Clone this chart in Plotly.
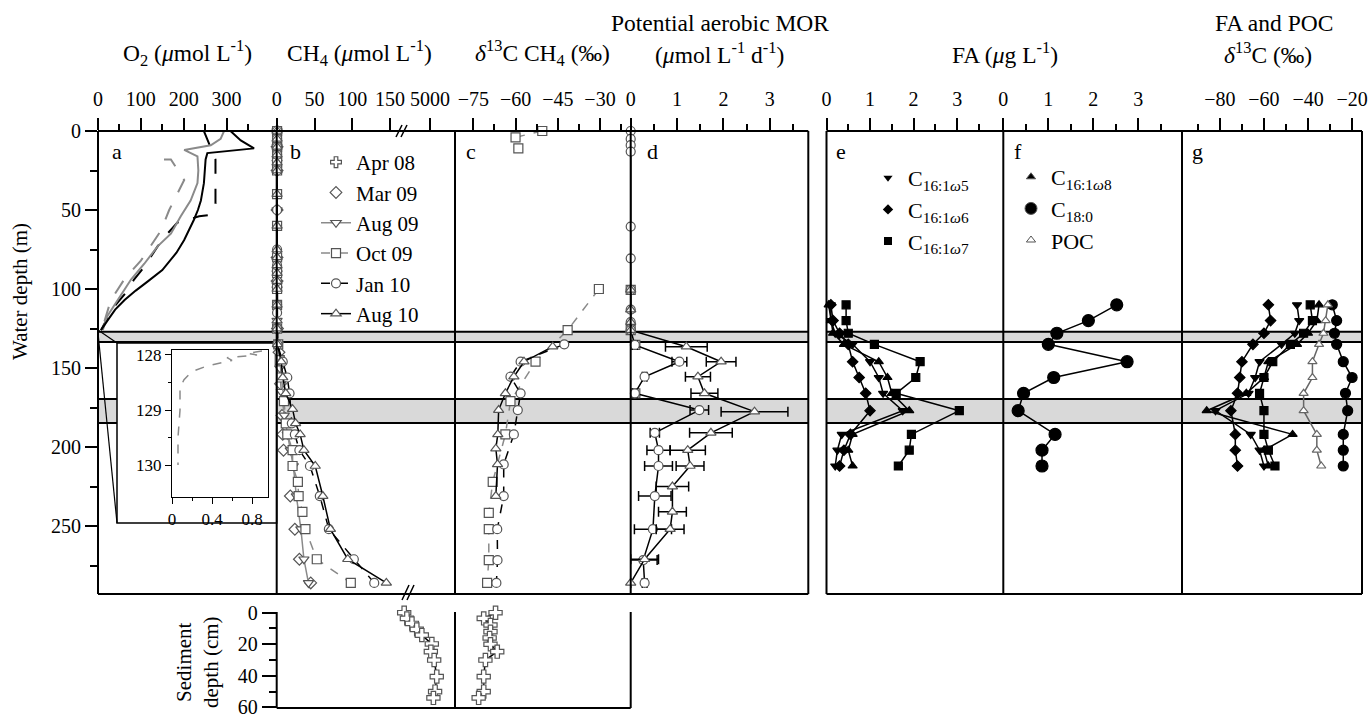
import plotly.graph_objects as go

W, H = 1372, 715
def PX(x): return x / W
def PY(y): return 1 - y / H

SERIF = "Liberation Serif"

# ---------------- data ----------------
# (a) O2 (umol/L) vs water depth (m)
a_aug10_z = [0, 6, 11, 14, 18, 25, 33, 44, 50, 56, 62, 69, 77, 88, 95, 101, 107, 113, 120, 126]
a_aug10 = [309, 333, 364, 255, 251, 249, 247, 240, 233, 224, 213, 201, 183, 150, 117, 88, 62, 40, 22, 7]
a_aug09_z = [0, 5, 9, 12, 16, 25, 33, 44, 54, 65, 73, 84, 94, 107, 117, 126]
a_aug09 = [294, 286, 263, 201, 232, 234, 232, 216, 193, 170, 139, 108, 77, 46, 22, 11]
a_oct09_z = [18, 18, 31, 44, 50, 63, 75, 82, 94, 107, 124]
a_oct09 = [154, 170, 201, 177, 166, 147, 116, 100, 61, 30, 11]
a_jan10_z = [0, 8, 18, 46, 53, 54, 58, 65, 73, 86, 94, 101, 111, 122, 126]
a_jan10 = [247, 259, 274, 274, 263, 236, 185, 162, 139, 108, 84, 69, 38, 15, 7]
# inset: O2 near oxycline
inset_z = [127.93, 127.97, 128.0, 128.05, 128.1, 128.2, 128.3, 128.45, 128.6, 129.0, 129.5, 130.0]
inset_o2 = [0.9, 0.75, 0.85, 0.55, 0.6, 0.35, 0.2, 0.12, 0.08, 0.08, 0.06, 0.06]

# (b) CH4 (umol/L)
b_mar09_z = [0, 10, 25, 50, 80, 95, 125, 140, 160, 180, 192, 202, 231, 252, 271, 286]
b_mar09 = [0.5, 0.5, 0.5, 0.5, 0.5, 0.5, 1, 3, 5, 7, 8, 9, 18, 24, 30, 45]
b_aug09_z = [0, 10, 20, 50, 90, 100, 120, 135, 150, 165, 180, 192, 202, 212, 231, 252, 271, 286]
b_aug09 = [0.5, 0.5, 0.5, 0.5, 0.5, 0.5, 0.5, 2, 4, 6, 10, 14, 18, 22, 26, 32, 36, 42]
b_oct09_z = [0, 5, 10, 15, 20, 25, 40, 60, 80, 90, 100, 110, 125, 135, 145, 156, 171, 185, 192, 202, 212, 222, 231, 241, 252, 271, 286]
b_oct09 = [0.5] * 13 + [2, 4, 6, 9.6, 12, 14, 21, 21, 28, 29, 34, 38, 53, 98]
b_jan10_z = [0, 5, 10, 15, 25, 50, 75, 85, 95, 110, 115, 125, 135, 146, 156, 166, 185, 192, 202, 212, 231, 252, 271, 286]
b_jan10 = [0.5] * 12 + [1, 8, 14, 17, 20, 24, 30, 44, 57, 69, 102, 129]
b_aug10_z = [0, 5, 10, 15, 20, 25, 40, 60, 75, 80, 85, 90, 95, 100, 110, 120, 125, 135, 146, 156, 166, 176, 185, 192, 202, 212, 231, 252, 271, 286]
b_aug10 = [0.5] * 17 + [1, 6, 8, 12, 21, 25, 31, 36, 51, 61, 71, 94, 145]
b_axis_vals = [0, 50, 100, 150, 202.8]
b_axis_text = ["0", "50", "100", "150", "5000"]

# (c) d13C-CH4 (permil); None = gap in the profile line
c_oct09_z = [0, 4, 11, None, 100, 126, 146, 171, 192, 222, 241.6, 252, 271.6, 286]
c_oct09 = [-50.5, -60, -59, None, -30.4, -41.5, -52.9, -61.8, -63.6, -68.1, -69.5, -69.5, -69.5, -70.1]
c_jan10_z = [135, 146, 155.5, 166, 176.6, 192, 211, 231, 252, 271.6, 286]
c_jan10 = [-42.7, -58.2, -61.8, -58.2, -59.2, -60.6, -64.2, -64.2, -66.5, -66.4, -66.8]
c_aug10_z = [136.5, 146, 155.5, 166, 176.6, 192, 201, 211, 231]
c_aug10 = [-46.8, -57, -60.6, -63.6, -66, -66.3, -67, -66.4, -67]

# (d) potential aerobic MOR (umol/L/d)
d_jan10_z = [0, 5, 9, 13, 60.5, 80.6, 100.6, 113, 121, 126, 135.4, 146, 155.5, 166, 176.6, 191, 202, 212, 231, 252, 271.5, 286]
d_jan10 = [0] * 10 + [0.09, 1.05, 0.3, 0.09, 1.48, 0.52, 0.6, 0.6, 0.52, 0.48, 0.27, 0.3]
d_jan10_err = [0] * 10 + [0.05, 0.16, 0.05, 0.05, 0.2, 0.1, 0.25, 0.3, 0.35, 0.4, 0.3, 0.05]
d_aug10_z = [100.6, 113, 121, 126, 136.5, 146, 155.5, 166, 177.6, 191, 202, 212, 225, 241, 252, 271, 286]
d_aug10 = [0, 0, 0, 0, 1.2, 1.95, 1.45, 1.59, 2.67, 1.73, 1.23, 1.28, 0.9, 0.9, 0.85, 0.3, 0]
d_aug10_err = [0, 0, 0, 0, 0.45, 0.32, 0.27, 0.29, 0.72, 0.46, 0.38, 0.3, 0.35, 0.3, 0.3, 0.3, 0]
d_oct09_z = [100.6, 126, 135.4, 166]
d_oct09 = [0, 0, 0.1, 0.1]

# (e,f) fatty acids (ug/L) and (g) d13C (permil)
fa_z = [110, 120, 128, 135, 146, 156, 166, 177, 192, 202, 212]
e_c5 = [0.1, 0.1, 0.2, 0.6, 1.0, 1.2, 1.3, 1.75, 0.35, 0.25, 0.2]
e_c6 = [0.1, 0.15, 0.3, 0.5, 0.6, 0.75, 0.9, 1.0, 0.55, 0.4, 0.3]
e_c7 = [0.45, 0.45, 0.5, 1.1, 2.15, 2.05, 1.6, 3.05, 1.95, 1.9, 1.65]
e_c8 = [0.05, 0.1, 0.15, 0.4, 1.2, 1.4, 1.5, 1.9, 0.6, 0.5, 0.6]
f_c18 = [2.52, 1.89, 1.19, 1.0, 2.75, 1.12, 0.45, 0.33, 1.15, 0.86, 0.86]
g_c5 = [-45, -44, -46, -52, -62, -64, -67, -82, -66, -62, -60]
g_c6 = [-58, -57, -60, -65, -70, -71, -72, -75, -73, -73, -72]
g_c7 = [-39, -38, -42, -48, -56, -60, -62, -60, -60, -58, -55]
g_c8 = [-35, -36, -40, -45, -58, -60, -68, -86, -47, -60, -58]
g_c18 = [-29, -27, -28, -27, -24, -20, -23, -22, -24, -24, -24]
g_poc = [-31, -32, -33, -35, -38, -38, -42, -42, -36, -36, -34]

# sediment (Apr 08)
sed_z = [0, 3.6, 6.8, 10.6, 14.2, 19.8, 24.7, 30, 40.5, 50, 54]
sed_ch4 = [4316, 4388, 4520, 4648, 4782, 5046, 5020, 5108, 5176, 5132, 5088]
sed_d13c_z = [0, 3.6, 7.8, 12, 16, 20, 24.7, 30, 40.5, 50, 54]
sed_d13c = [-67.1, -71.3, -68.9, -68.9, -69.2, -68.9, -66.5, -70.7, -71.3, -71.3, -73.1]

# gray bands (water depth, m)
band_top = [127, 169.6]
band_bot = [133.5, 184.8]

# ---------------- styles ----------------
MONTH = {
    "Apr 08": dict(symbol="cross", lcolor="black", dash="solid", mode="markers"),
    "Mar 09": dict(symbol="diamond", lcolor="black", dash="solid", mode="markers"),
    "Aug 09": dict(symbol="triangle-down", lcolor="#8a8a8a", dash="solid", mode="lines+markers"),
    "Oct 09": dict(symbol="square", lcolor="#8a8a8a", dash="dash", mode="lines+markers"),
    "Jan 10": dict(symbol="circle", lcolor="black", dash="dash", mode="lines+markers"),
    "Aug 10": dict(symbol="triangle-up", lcolor="black", dash="solid", mode="lines+markers"),
}

fig = go.Figure()


def add(x, y, xa, ya, month=None, mode=None, symbol="circle", mfill="white", medge="#555",
        msize=9, lcolor="black", dash=None, lwidth=1.5, err=None):
    d = "solid"
    if month is not None:
        st = MONTH[month]
        symbol, lcolor, d = st["symbol"], st["lcolor"], st["dash"]
        if mode is None:
            mode = st["mode"]
    if dash is not None:
        d = dash
    if mode is None:
        mode = "lines+markers"
    tr = go.Scatter(
        x=x, y=y, xaxis=xa, yaxis=ya, mode=mode, showlegend=False,
        marker=dict(symbol=symbol, color=mfill, size=msize, line=dict(color=medge, width=1.2)),
        line=dict(color=lcolor, dash=d, width=lwidth),
        cliponaxis=False, connectgaps=False,
    )
    if err is not None:
        tr.error_x = dict(type="data", array=err, color="black", thickness=1.5, width=5)
    fig.add_trace(tr)


# (a) O2 lines
fig.add_trace(go.Scatter(x=a_jan10, y=a_jan10_z, xaxis="x", yaxis="y", mode="lines", showlegend=False,
                         line=dict(color="black", width=2, dash="longdash")))
fig.add_trace(go.Scatter(x=a_oct09, y=a_oct09_z, xaxis="x", yaxis="y", mode="lines", showlegend=False,
                         line=dict(color="#8a8a8a", width=2, dash="longdash")))
fig.add_trace(go.Scatter(x=a_aug09, y=a_aug09_z, xaxis="x", yaxis="y", mode="lines", showlegend=False,
                         line=dict(color="#8a8a8a", width=2)))
fig.add_trace(go.Scatter(x=a_aug10, y=a_aug10_z, xaxis="x", yaxis="y", mode="lines", showlegend=False,
                         line=dict(color="black", width=2)))
# inset
fig.add_trace(go.Scatter(x=inset_o2, y=inset_z, xaxis="x10", yaxis="y3", mode="lines", showlegend=False,
                         line=dict(color="#8a8a8a", width=1.5, dash="dash")))

# (b) CH4
add(b_mar09, b_mar09_z, "x2", "y", month="Mar 09")
add(b_aug09, b_aug09_z, "x2", "y", month="Aug 09")
add(b_oct09, b_oct09_z, "x2", "y", month="Oct 09")
add(b_jan10, b_jan10_z, "x2", "y", month="Jan 10")
add(b_aug10, b_aug10_z, "x2", "y", month="Aug 10")
# (c) d13C CH4
add(c_oct09, c_oct09_z, "x3", "y", month="Oct 09")
add(c_jan10, c_jan10_z, "x3", "y", month="Jan 10")
add(c_aug10, c_aug10_z, "x3", "y", month="Aug 10")
# (d) MOR
add(d_oct09, d_oct09_z, "x4", "y", month="Oct 09", mode="markers")
add(d_jan10, d_jan10_z, "x4", "y", month="Jan 10", err=d_jan10_err, dash="solid")
add(d_aug10, d_aug10_z, "x4", "y", month="Aug 10", err=d_aug10_err)
# sediment
add(sed_ch4, sed_z, "x8", "y2", month="Apr 08", mode="lines+markers", msize=11)
add(sed_d13c, sed_d13c_z, "x9", "y2", month="Apr 08", mode="lines+markers", msize=11)

# (e) FA
for vals, sym in [(e_c8, "triangle-up"), (e_c5, "triangle-down"), (e_c6, "diamond"), (e_c7, "square")]:
    add(vals, fa_z, "x5", "y", symbol=sym, mfill="black", medge="black", msize=8)
# (f)
add(f_c18, fa_z, "x6", "y", symbol="circle", mfill="black", medge="black", msize=12)
# (g)
for vals, sym, sz in [(g_c5, "triangle-down", 8), (g_c6, "diamond", 8), (g_c7, "square", 8),
                      (g_c8, "triangle-up", 8), (g_c18, "circle", 10)]:
    add(vals, fa_z, "x7", "y", symbol=sym, mfill="black", medge="black", msize=sz)
add(g_poc, fa_z, "x7", "y", symbol="triangle-up", mfill="white", medge="#666", msize=8, lcolor="#666")

# legends (dummy traces)
for i, m in enumerate(["Apr 08", "Mar 09", "Aug 09", "Oct 09", "Jan 10", "Aug 10"]):
    st = MONTH[m]
    mode = "markers" if m in ("Apr 08", "Mar 09") else "lines+markers"
    fig.add_trace(go.Scatter(x=[None], y=[None], xaxis="x2", yaxis="y", mode=mode, name=m,
                             legend="legend", showlegend=True,
                             marker=dict(symbol=st["symbol"], color="white", size=9, line=dict(color="#555", width=1.2)),
                             line=dict(color=st["lcolor"], dash=st["dash"], width=1.5)))
for nm, sym in [("C<sub>16:1<i>ω</i>5</sub>", "triangle-down"), ("C<sub>16:1<i>ω</i>6</sub>", "diamond"),
                ("C<sub>16:1<i>ω</i>7</sub>", "square")]:
    fig.add_trace(go.Scatter(x=[None], y=[None], xaxis="x5", yaxis="y", mode="markers", name=nm,
                             legend="legend2", showlegend=True,
                             marker=dict(symbol=sym, color="black", size=8)))
for nm, sym, fill, sz in [("C<sub>16:1<i>ω</i>8</sub>", "triangle-up", "black", 8),
                          ("C<sub>18:0</sub>", "circle", "black", 12),
                          ("POC", "triangle-up", "white", 8)]:
    fig.add_trace(go.Scatter(x=[None], y=[None], xaxis="x6", yaxis="y", mode="markers", name=nm,
                             legend="legend3", showlegend=True,
                             marker=dict(symbol=sym, color=fill, size=sz, line=dict(color="#555", width=1))))

# ---------------- axes ----------------
TICKF = dict(family=SERIF, size=20, color="black")


def topx(dom, rng, tickvals, ticktext=None, minor=None):
    d = dict(domain=[PX(dom[0]), PX(dom[1])], range=rng, anchor="y", side="top",
             tickmode="array", tickvals=tickvals, ticks="outside", ticklen=12, tickwidth=1.5,
             tickcolor="black", showgrid=False, zeroline=False, showline=False,
             tickfont=TICKF, ticklabelstandoff=4, automargin=False)
    if ticktext is not None:
        d["ticktext"] = ticktext
    if minor is not None:
        d["minor"] = dict(tickmode="array", tickvals=minor, ticks="outside", ticklen=6,
                          tickwidth=1.5, tickcolor="black", showgrid=False)
    return d


layout_axes = dict(
    xaxis=topx((98, 276.7), [0, 416.8], [0, 100, 200, 300], minor=[50, 150, 250, 350]),
    xaxis2=topx((276.7, 455), [0, 235.8], b_axis_vals, b_axis_text),
    xaxis3=topx((455, 630.7), [-81.5, -19.1], [-75, -60, -45, -30], minor=[-67.5, -52.5, -37.5, -22.5]),
    xaxis4=topx((630.7, 808.3), [0, 3.83], [0, 1, 2, 3], minor=[0.5, 1.5, 2.5, 3.5]),
    xaxis5=topx((826.5, 1003.3), [0, 4.06], [0, 1, 2, 3], minor=[0.5, 1.5, 2.5, 3.5]),
    xaxis6=topx((1003.3, 1182), [0, 3.97], [0, 1, 2, 3], minor=[0.5, 1.5, 2.5, 3.5]),
    xaxis7=topx((1182, 1362), [-97.2, -15.5], [-80, -60, -40, -20], minor=[-90, -70, -50, -30]),
    yaxis=dict(domain=[PY(594), PY(131)], range=[293, 0], anchor="x", tickmode="array",
               tickvals=[0, 50, 100, 150, 200, 250], ticks="outside", ticklen=12, tickwidth=1.5,
               tickcolor="black", showgrid=False, zeroline=False, showline=False, tickfont=TICKF,
               automargin=False,
               minor=dict(tickmode="array", tickvals=[25, 75, 125, 175, 225, 275], ticks="outside",
                          ticklen=7, tickwidth=1.5, tickcolor="black", showgrid=False)),
    xaxis8=dict(domain=[PX(276.7), PX(455)], range=[950, 5658], anchor="y2", visible=False, automargin=False),
    xaxis9=dict(domain=[PX(455), PX(630.7)], range=[-81.5, -19.1], anchor="y2", visible=False, automargin=False),
    yaxis2=dict(domain=[PY(708), PY(612.7)], range=[60.4, 0], anchor="x8", tickmode="array",
                tickvals=[0, 20, 40, 60], ticks="outside", ticklen=14, tickwidth=1.5, tickcolor="black",
                showgrid=False, zeroline=False, showline=False, tickfont=TICKF, automargin=False,
                ticklabeloverflow="allow",
                minor=dict(tickmode="array", tickvals=[10, 30, 50], ticks="outside", ticklen=7,
                           tickwidth=1.5, tickcolor="black", showgrid=False)),
    xaxis10=dict(domain=[PX(172), PX(268)], range=[0, 0.96], anchor="y3", side="bottom",
                 tickmode="array", tickvals=[0, 0.4, 0.8], ticks="outside", ticklen=6, tickwidth=1.2,
                 tickcolor="black", showgrid=False, zeroline=False, showline=True, linecolor="black",
                 linewidth=1.2, mirror=True, tickfont=dict(family=SERIF, size=17, color="black"),
                 automargin=False,
                 minor=dict(tickmode="array", tickvals=[0.2, 0.6], ticks="outside", ticklen=3,
                            tickcolor="black", showgrid=False)),
    yaxis3=dict(domain=[PY(497), PY(350)], range=[130.58, 127.91], anchor="x10", tickmode="array",
                tickvals=[128, 129, 130], ticks="outside", ticklen=6, tickwidth=1.2, tickcolor="black",
                showgrid=False, zeroline=False, showline=True, linecolor="black", linewidth=1.2,
                mirror=True, tickfont=dict(family=SERIF, size=17, color="black"), automargin=False,
                minor=dict(tickmode="array", tickvals=[128.5, 129.5], ticks="outside", ticklen=3,
                           tickcolor="black", showgrid=False)),
)

# ---------------- shapes ----------------
shapes = []


def pline(x0, y0, x1, y1, w=2, color="black", layer="above"):
    shapes.append(dict(type="line", xref="paper", yref="paper", x0=PX(x0), y0=PY(y0), x1=PX(x1),
                       y1=PY(y1), line=dict(color=color, width=w), layer=layer))


# gray bands with black edges
for t, b in zip(band_top, band_bot):
    for xl, xr in [(98, 808.3), (826.5, 1362)]:
        shapes.append(dict(type="rect", xref="paper", yref="y", x0=PX(xl), x1=PX(xr), y0=t, y1=b,
                           fillcolor="#d9d9d9", line=dict(width=0), layer="below"))
        for yy in (t, b):
            shapes.append(dict(type="line", xref="paper", yref="y", x0=PX(xl), x1=PX(xr), y0=yy, y1=yy,
                               line=dict(color="black", width=2), layer="below"))
# inset frame (white box covering bands)
shapes.append(dict(type="rect", xref="paper", yref="paper", x0=PX(117), x1=PX(276.7), y0=PY(523),
                   y1=PY(343), fillcolor="white", line=dict(color="black", width=1.5), layer="below"))
pline(98, 330, 117, 343, w=1.2)
pline(98, 333, 117, 523, w=1.2)

# main frames
pline(98, 131, 808.3, 131)
pline(98, 594, 808.3, 594)
for xv in (98, 276.7, 455, 630.7, 808.3):
    pline(xv, 131, xv, 594)
pline(826.5, 131, 1362, 131)
pline(826.5, 594, 1362, 594)
for xv in (826.5, 1003.3, 1182, 1362):
    pline(xv, 131, xv, 594)
# sediment frames
for xv in (276.7, 455, 630.7):
    pline(xv, 612, xv, 708)
pline(276.7, 708, 630.7, 708)
# axis breaks
for dx in (0, 5):
    pline(396 + dx, 137, 402 + dx, 125, w=1.5)
    pline(402 + dx, 600, 409 + dx, 585, w=1.5)

# ---------------- annotations ----------------
ann = []


def text(t, x, y, size=22, angle=0, xanchor="center"):
    ann.append(dict(text=t, x=PX(x), y=PY(y), xref="paper", yref="paper", showarrow=False,
                    font=dict(family=SERIF, size=size, color="black"), textangle=angle,
                    xanchor=xanchor, yanchor="middle"))


TS = 23.5
text("O<sub>2</sub> (<i>μ</i>mol L<sup>-1</sup>)", 188, 53, TS)
text("CH<sub>4</sub> (<i>μ</i>mol L<sup>-1</sup>)", 360, 53, TS)
text("<i>δ</i><sup>13</sup>C CH<sub>4</sub> (‰)", 542, 53, TS)
text("Potential aerobic MOR", 720, 23, TS)
text("(<i>μ</i>mol L<sup>-1</sup> d<sup>-1</sup>)", 720, 53, TS)
text("FA (<i>μ</i>g L<sup>-1</sup>)", 1005, 53, TS)
text("FA and POC", 1274, 23, TS)
text("<i>δ</i><sup>13</sup>C (‰)", 1268, 53, TS)
text("Water depth (m)", 20, 292, size=21, angle=-90)
text("Sediment<br>depth (cm)", 197, 662, size=21, angle=-90)
for lab, x in [("a", 117), ("b", 295), ("c", 471), ("d", 652), ("e", 841), ("f", 1018), ("g", 1197)]:
    text(lab, x, 152, size=22)

fig.update_layout(
    template="none",
    width=W, height=H, margin=dict(l=0, r=0, t=0, b=0, pad=0), autosize=False,
    paper_bgcolor="white", plot_bgcolor="rgba(0,0,0,0)",
    font=dict(family=SERIF, color="black"),
    shapes=shapes, annotations=ann,
    legend=dict(x=PX(316), y=PY(142), xanchor="left", yanchor="top", bgcolor="rgba(0,0,0,0)",
                font=dict(family=SERIF, size=21, color="black"), traceorder="normal"),
    legend2=dict(x=PX(868), y=PY(157), xanchor="left", yanchor="top", bgcolor="rgba(0,0,0,0)",
                 font=dict(family=SERIF, size=22, color="black"), traceorder="normal"),
    legend3=dict(x=PX(1011), y=PY(156), xanchor="left", yanchor="top", bgcolor="rgba(0,0,0,0)",
                 font=dict(family=SERIF, size=22, color="black"), traceorder="normal"),
    **layout_axes,
)

fig.write_html("out.html", config={"displayModeBar": False},
               post_script="document.body.style.margin='0px';")
